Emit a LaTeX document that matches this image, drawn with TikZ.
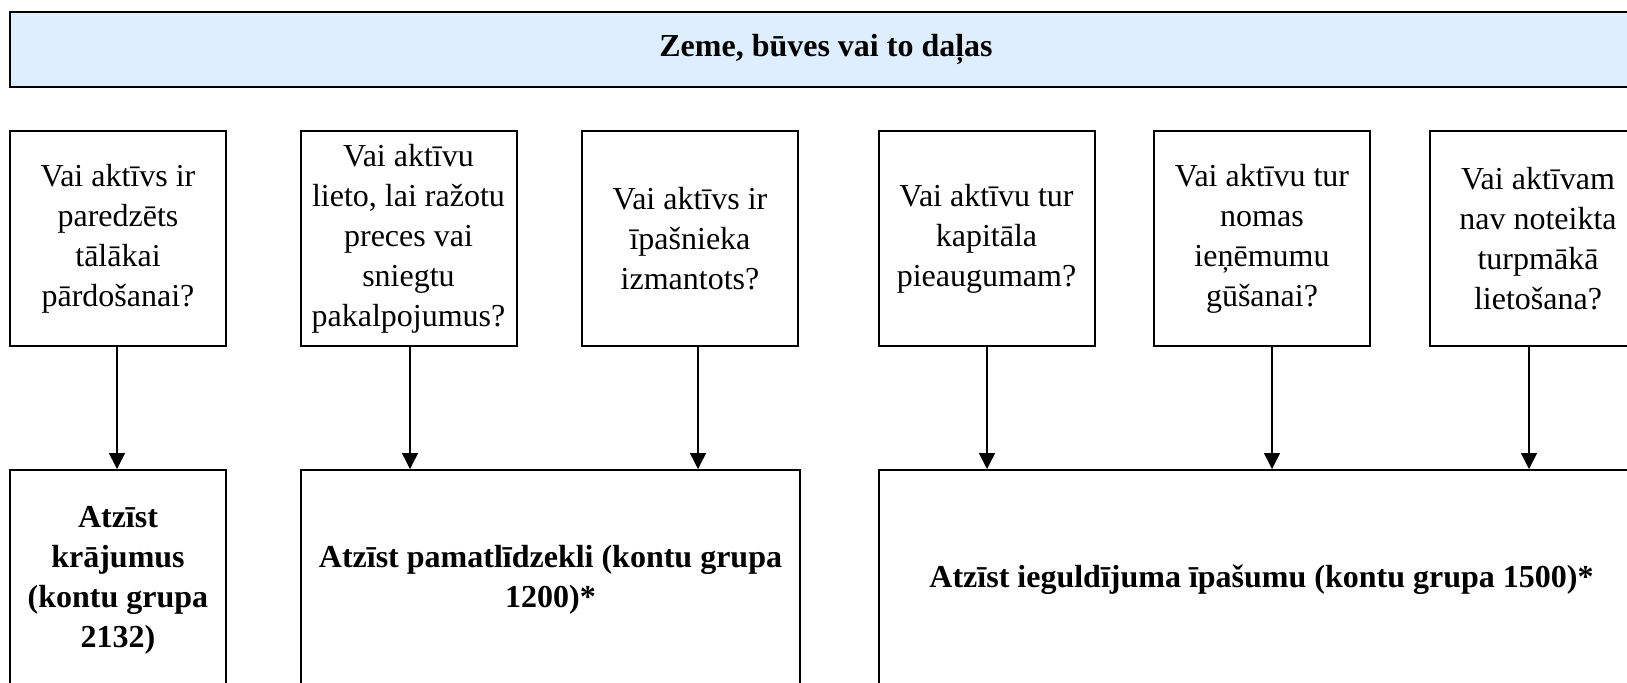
\documentclass[tikz,border=0pt]{standalone}
\usepackage{fontspec}
\setmainfont{Liberation Serif}
\usetikzlibrary{positioning,arrows.meta}
\definecolor{banner}{HTML}{DFEEFC}

\begin{document}
\begin{tikzpicture}[x=0.5pt,y=-0.5pt,
  box/.style={draw=black, line width=1pt, inner sep=0pt, align=center, font=\fontsize{16pt}{20pt}\selectfont},
  ask/.style={box, minimum width=108pt, minimum height=107.5pt},
  book/.style={box, font=\fontsize{16pt}{20pt}\selectfont\bfseries, minimum height=110pt},
  flow/.style={-{Triangle[length=8pt,width=8pt]}, line width=0.75pt}]
\useasboundingbox (0,0) rectangle (1627,682);
\clip (0,0) rectangle (1627,682);
% top: heading
\node[box, fill=banner, font=\fontsize{16pt}{20pt}\selectfont\bfseries, minimum width=816pt, minimum height=37.5pt] (land) at (826,49.5) {Zeme, būves vai to daļas};
% middle: questions
\node[ask] (q1) at (118,238.5) {Vai aktīvs ir\\paredzēts\\tālākai\\pārdošanai?};
\node[ask] (q2) at (408.5,238.5) {Vai aktīvu\\lieto, lai ražotu\\preces vai\\sniegtu\\pakalpojumus?};
\node[ask] (q3) at (690,238.5) {Vai aktīvs ir\\īpašnieka\\izmantots?};
\node[ask] (q4) at (986.5,238.5) {Vai aktīvu tur\\kapitāla\\pieaugumam?};
\node[ask] (q5) at (1262,238.5) {Vai aktīvu tur\\nomas\\ieņēmumu\\gūšanai?};
\node[ask] (q6) at (1538,238.5) {Vai aktīvam\\nav noteikta\\turpmākā\\lietošana?};
% bottom: where it is booked
\node[book, minimum width=108pt] (r1) at (118,580) {Atzīst\\krājumus\\(kontu grupa\\2132)};
\node[book, minimum width=249.5pt] (r2) at (550.5,580) {Atzīst pamatlīdzekli (kontu grupa\\1200)*};
\node[book, minimum width=382.5pt] (r3) at (1261.5,580) {Atzīst ieguldījuma īpašumu (kontu grupa 1500)*};
\foreach \q/\r/\dx in {q1/r1/-0.5, q2/r2/0.75, q3/r2/4, q4/r3/0.25, q5/r3/5, q6/r3/-4.5}
  \draw[flow] ([xshift=\dx pt]\q.south) -- ([xshift=\dx pt]\q.south |- \r.north);
\end{tikzpicture}
\end{document}
